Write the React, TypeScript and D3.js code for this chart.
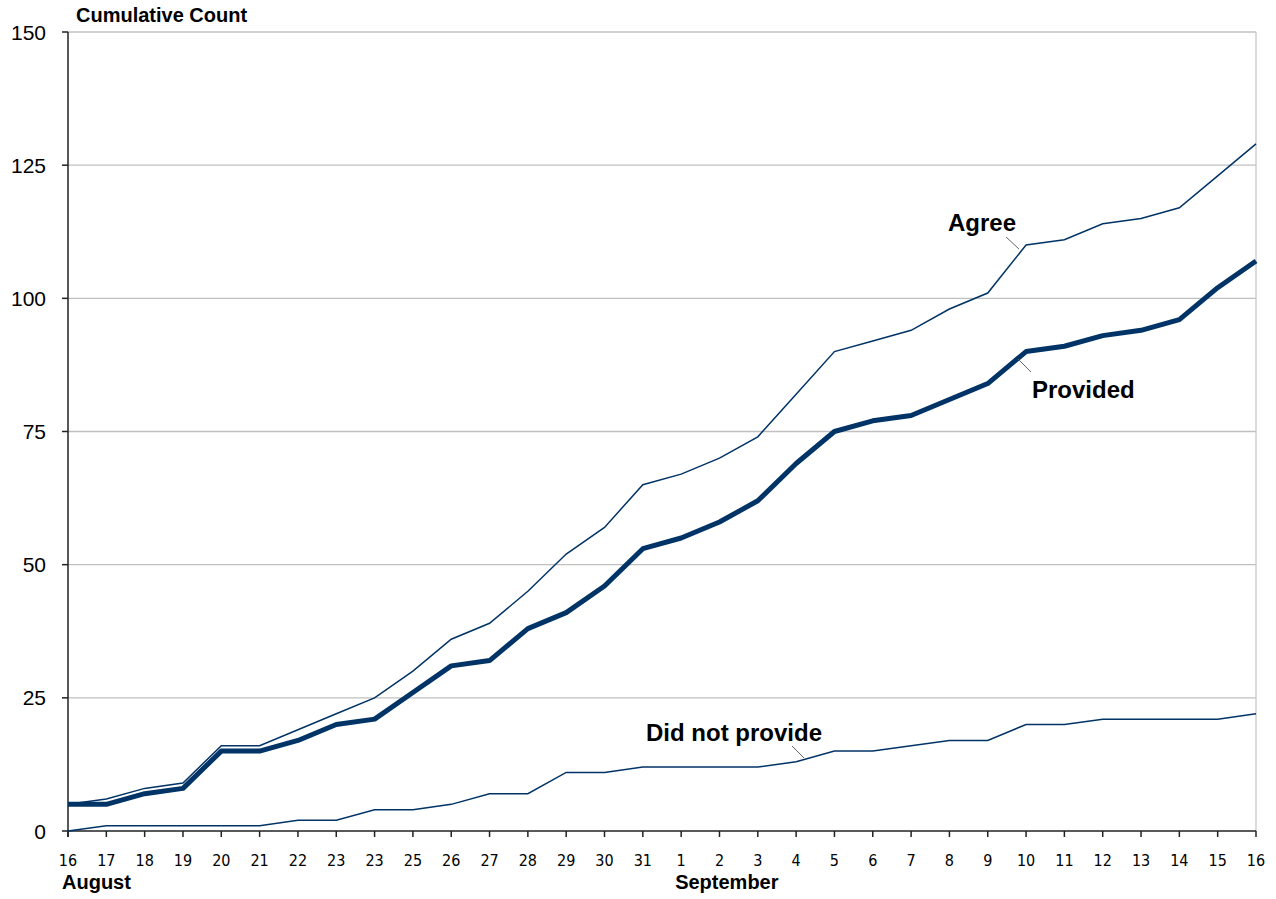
import React from "react";
import * as d3 from "d3";

const dayLabels = ["16","17","18","19","20","21","22","23","23","25","26","27","28","29","30","31","1","2","3","4","5","6","7","8","9","10","11","12","13","14","15","16"];
const agree = [5,6,8,9,16,16,19,22,25,30,36,39,45,52,57,65,67,70,74,82,90,92,94,98,101,110,111,114,115,117,123,129];
const provided = [5,5,7,8,15,15,17,20,21,26,31,32,38,41,46,53,55,58,62,69,75,77,78,81,84,90,91,93,94,96,102,107];
const didNotProvide = [0,1,1,1,1,1,2,2,4,4,5,7,7,11,11,12,12,12,12,13,15,15,16,17,17,20,20,21,21,21,21,22];
const yTicks = [0,25,50,75,100,125,150];
const months = [{ name: "August", index: 0 }, { name: "September", index: 16 }];

const W = 1276, H = 899;
const left = 68, right = 1256, top = 32, bottom = 831;
const navy = "#003366";

export default function App() {
  const idx = d3.range(dayLabels.length);
  const x = d3.scaleLinear().domain([0, dayLabels.length - 1]).range([left, right]);
  const y = d3.scaleLinear().domain([0, 150]).range([bottom, top]);
  const line = d3.line<number>().x((_, i) => x(i)).y((d) => y(d));
  const narrow = "'Liberation Sans Narrow', 'Arial Narrow', 'DejaVu Sans Condensed', sans-serif";
  const sans = "'Liberation Sans', Arial, sans-serif";

  return (
    <svg width={W} height={H} style={{ position: "absolute", left: 0, top: 0, background: "#fff" }}>
      {yTicks.filter((t) => t > 0).map((t) => (
        <line key={"g" + t} x1={left} x2={right} y1={y(t)} y2={y(t)} stroke="#c0c0c0" strokeWidth={1.3} />
      ))}
      <line x1={right} x2={right} y1={top} y2={bottom} stroke="#c8c8c8" strokeWidth={1.3} />
      {/* y axis */}
      <line x1={left} x2={left} y1={top} y2={bottom + 6} stroke="#222" strokeWidth={1.5} />
      {yTicks.map((t) => (
        <g key={"y" + t}>
          <line x1={left - 6} x2={left} y1={y(t)} y2={y(t)} stroke="#222" strokeWidth={1.5} />
          <text x={46} y={y(t) + 7.5} textAnchor="end" fontFamily={sans} fontSize={21} fill="#000">{t}</text>
        </g>
      ))}
      <text x={76} y={22} fontFamily={sans} fontSize={20} fontWeight="bold" fill="#000">Cumulative Count</text>
      {/* x axis */}
      <line x1={left} x2={right} y1={bottom} y2={bottom} stroke="#222" strokeWidth={1.5} />
      {idx.map((i) => (
        <g key={"x" + i}>
          <line x1={x(i)} x2={x(i)} y1={bottom} y2={bottom + 6} stroke="#222" strokeWidth={1.5} />
          <text x={x(i)} y={866} textAnchor="middle" fontFamily={narrow} fontSize={16} fill="#000">{dayLabels[i]}</text>
        </g>
      ))}
      {months.map((m) => (
        <text key={m.name} x={x(m.index) - 6} y={889} fontFamily={sans} fontSize={20} fontWeight="bold" fill="#000">{m.name}</text>
      ))}
      {/* series */}
      <path d={line(didNotProvide) || ""} fill="none" stroke={navy} strokeWidth={1.5} />
      <path d={line(agree) || ""} fill="none" stroke={navy} strokeWidth={1.5} />
      <path d={line(provided) || ""} fill="none" stroke={navy} strokeWidth={5} strokeLinejoin="round" />
      {/* annotations */}
      <line x1={1006} y1={237} x2={1019} y2={249} stroke="#666" strokeWidth={1} />
      <text x={948} y={231} fontFamily={sans} fontSize={24} fontWeight="bold" fill="#000">Agree</text>
      <line x1={1018} y1={359} x2={1031} y2={372} stroke="#666" strokeWidth={1} />
      <text x={1032} y={398} fontFamily={sans} fontSize={24} fontWeight="bold" fill="#000">Provided</text>
      <line x1={792} y1={746} x2={804} y2={758} stroke="#666" strokeWidth={1} />
      <text x={646} y={741} fontFamily={sans} fontSize={24} fontWeight="bold" fill="#000">Did not provide</text>
    </svg>
  );
}
